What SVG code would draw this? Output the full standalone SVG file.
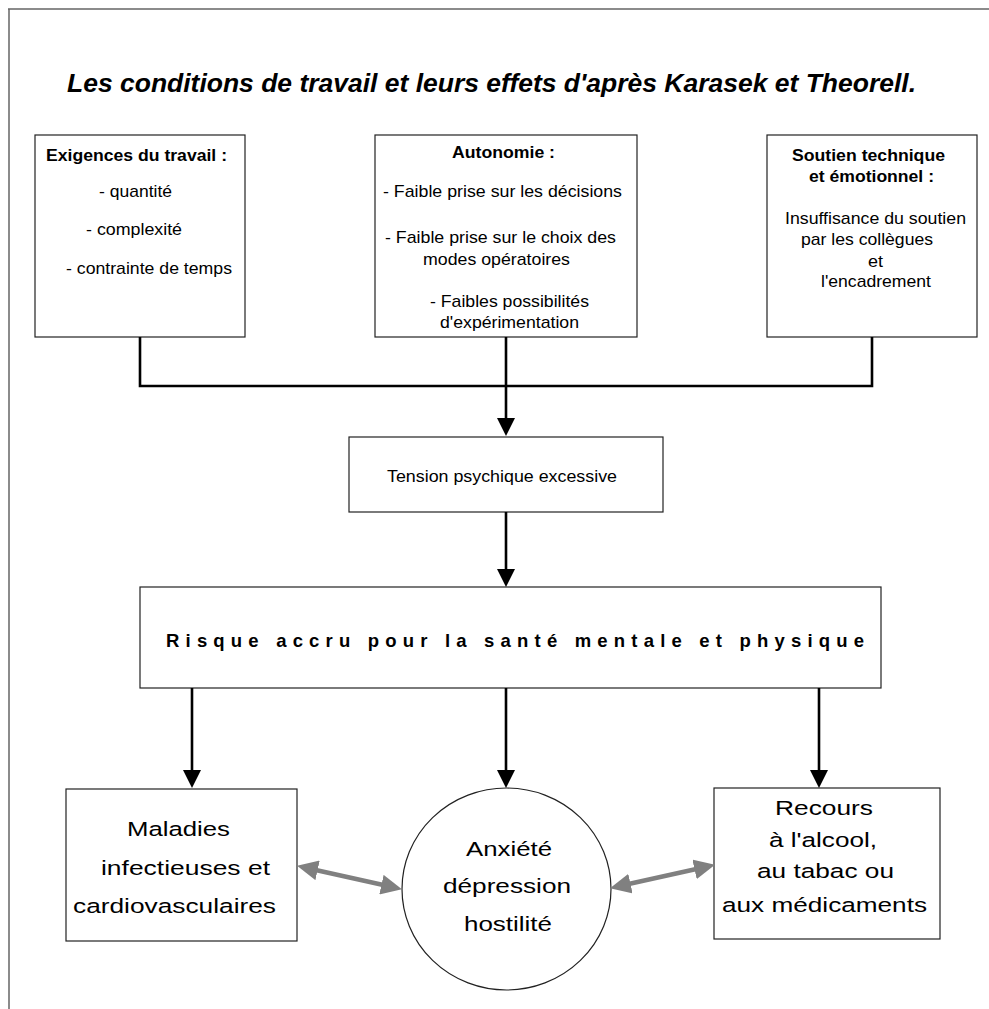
<svg xmlns="http://www.w3.org/2000/svg" width="989" height="1009" viewBox="0 0 989 1009">
<style>
.box{fill:#fff;stroke:#222;stroke-width:1.2}
.t{font-family:"Liberation Sans",Arial,sans-serif;fill:#000}
.s17{font-size:17px}
.b{font-weight:bold}
.big{font-size:20.5px}
.conn{fill:none;stroke:#000;stroke-width:2.6}
.grey{fill:none;stroke:#808080;stroke-width:4.5}
.frame{stroke:#666;stroke-width:1.5;fill:none}
</style>
<defs>
<marker id="ah" markerUnits="userSpaceOnUse" markerWidth="18" markerHeight="18" refX="8" refY="9" orient="auto" viewBox="0 0 18 18">
<path d="M0,0 L18,9 L0,18 Z" fill="#000"/>
</marker>
<marker id="gh" markerUnits="userSpaceOnUse" markerWidth="21" markerHeight="20" refX="10" refY="10" orient="auto-start-reverse" viewBox="0 0 21 20">
<path d="M0,0 L21,10 L0,20 Z" fill="#808080"/>
</marker>
</defs>
<rect width="989" height="1009" fill="#fff"/>
<path class="frame" d="M8,9 H989 M9,9 V1009"/>
<text class="t" x="67" y="91.5" font-size="25" font-weight="bold" font-style="italic" textLength="849" lengthAdjust="spacingAndGlyphs">Les conditions de travail et leurs effets d'après Karasek et Theorell.</text>

<g id="exigences">
<rect class="box" x="35" y="135" width="210" height="202"/>
<text class="t s17 b" x="46" y="161" textLength="181" lengthAdjust="spacingAndGlyphs">Exigences du travail :</text>
<text class="t s17" x="99" y="197" textLength="73" lengthAdjust="spacingAndGlyphs">- quantité</text>
<text class="t s17" x="86" y="235" textLength="96" lengthAdjust="spacingAndGlyphs">- complexité</text>
<text class="t s17" x="66" y="274" textLength="166" lengthAdjust="spacingAndGlyphs">- contrainte de temps</text>
</g>

<g id="autonomie">
<rect class="box" x="375" y="135" width="262" height="202"/>
<text class="t s17 b" x="452" y="158" textLength="103" lengthAdjust="spacingAndGlyphs">Autonomie :</text>
<text class="t s17" x="383" y="197" textLength="239" lengthAdjust="spacingAndGlyphs">- Faible prise sur les décisions</text>
<text class="t s17" x="385" y="243" textLength="231" lengthAdjust="spacingAndGlyphs">- Faible prise sur le choix des</text>
<text class="t s17" x="423" y="265" textLength="147" lengthAdjust="spacingAndGlyphs">modes opératoires</text>
<text class="t s17" x="430" y="307" textLength="159" lengthAdjust="spacingAndGlyphs">- Faibles possibilités</text>
<text class="t s17" x="440" y="328" textLength="139" lengthAdjust="spacingAndGlyphs">d'expérimentation</text>
</g>

<g id="soutien">
<rect class="box" x="767" y="135" width="210" height="202"/>
<text class="t s17 b" x="792" y="161" textLength="153" lengthAdjust="spacingAndGlyphs">Soutien technique</text>
<text class="t s17 b" x="809" y="182" textLength="125" lengthAdjust="spacingAndGlyphs">et émotionnel :</text>
<text class="t s17" x="785" y="224" textLength="181" lengthAdjust="spacingAndGlyphs">Insuffisance du soutien</text>
<text class="t s17" x="801" y="245" textLength="132" lengthAdjust="spacingAndGlyphs">par les collègues</text>
<text class="t s17" x="868" y="267" textLength="15" lengthAdjust="spacingAndGlyphs">et</text>
<text class="t s17" x="821" y="287" textLength="110" lengthAdjust="spacingAndGlyphs">l'encadrement</text>
</g>

<g id="tension">
<rect class="box" x="349" y="437" width="314" height="75"/>
<text class="t" font-size="16.5" x="387" y="482" textLength="230" lengthAdjust="spacingAndGlyphs">Tension psychique excessive</text>
</g>

<g id="risque">
<rect class="box" x="140" y="587" width="741" height="101"/>
<text class="t b" font-size="18.5" x="166" y="647" textLength="698" lengthAdjust="spacing">Risque accru pour la santé mentale et physique</text>
</g>

<g id="maladies">
<rect class="box" x="66" y="789" width="231" height="152"/>
<text class="t big" x="127" y="836" textLength="103" lengthAdjust="spacingAndGlyphs">Maladies</text>
<text class="t big" x="101" y="875" textLength="169" lengthAdjust="spacingAndGlyphs">infectieuses et</text>
<text class="t big" x="73" y="913" textLength="203" lengthAdjust="spacingAndGlyphs">cardiovasculaires</text>
</g>

<g id="anxiete">
<ellipse class="box" cx="506.5" cy="889" rx="104.5" ry="101"/>
<text class="t big" x="466" y="856" textLength="86" lengthAdjust="spacingAndGlyphs">Anxiété</text>
<text class="t big" x="443" y="893" textLength="128" lengthAdjust="spacingAndGlyphs">dépression</text>
<text class="t big" x="464" y="931" textLength="88" lengthAdjust="spacingAndGlyphs">hostilité</text>
</g>

<g id="recours">
<rect class="box" x="714" y="788" width="226" height="151"/>
<text class="t big" x="775" y="815" textLength="98" lengthAdjust="spacingAndGlyphs">Recours</text>
<text class="t big" x="769" y="847" textLength="108" lengthAdjust="spacingAndGlyphs">à l'alcool,</text>
<text class="t big" x="757" y="878" textLength="137" lengthAdjust="spacingAndGlyphs">au tabac ou</text>
<text class="t big" x="722" y="912" textLength="205" lengthAdjust="spacingAndGlyphs">aux médicaments</text>
</g>

<g id="connectors">
<polyline class="conn" points="140,337 140,386 872,386 872,337"/>
<line class="conn" x1="506" y1="337" x2="506" y2="426" marker-end="url(#ah)"/>
<line class="conn" x1="506" y1="512" x2="506" y2="577" marker-end="url(#ah)"/>
<line class="conn" x1="192" y1="688" x2="192" y2="778" marker-end="url(#ah)"/>
<line class="conn" x1="506" y1="688" x2="506" y2="778" marker-end="url(#ah)"/>
<line class="conn" x1="819" y1="688" x2="819" y2="778" marker-end="url(#ah)"/>
<line class="grey" x1="307.8" y1="868.2" x2="391.2" y2="886.8" marker-start="url(#gh)" marker-end="url(#gh)"/>
<line class="grey" x1="620.7" y1="885.8" x2="704.3" y2="867.2" marker-start="url(#gh)" marker-end="url(#gh)"/>
</g>
</svg>
